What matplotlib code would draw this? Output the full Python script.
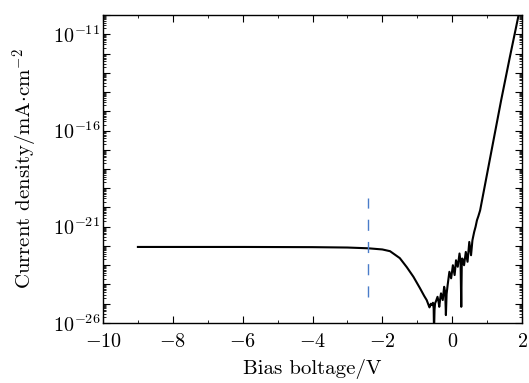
import numpy as np
import matplotlib
matplotlib.use("Agg")
import matplotlib.pyplot as plt
from matplotlib.ticker import FixedLocator, FuncFormatter, MultipleLocator

plt.rcParams['font.family'] = 'serif'
plt.rcParams['font.serif'] = ['cmr10', 'DejaVu Serif']
plt.rcParams['mathtext.fontset'] = 'cm'
plt.rcParams['axes.formatter.use_mathtext'] = True

# bias voltage (V) and log10 of current density
bias = [-9.0, -6.0, -4.0, -3.0, -2.4, -2.0, -1.78, -1.5, -1.3, -1.11, -0.92,
        -0.80, -0.73, -0.68, -0.65, -0.61, -0.58, -0.55, -0.53, -0.52, -0.505,
        -0.49, -0.46, -0.42, -0.39, -0.37, -0.34, -0.32, -0.27, -0.23, -0.20,
        -0.18, -0.16, -0.13, -0.08, -0.03, 0.02, 0.07, 0.11, 0.16, 0.21,
        0.24, 0.26, 0.275, 0.29, 0.34, 0.39, 0.44, 0.49, 0.54, 0.58,
        0.63, 0.67, 0.71, 0.75, 0.80, 1.10, 1.40, 1.65, 1.92]
log_j = [-22.05, -22.05, -22.06, -22.08, -22.12, -22.18, -22.27, -22.63, -23.10, -23.60, -24.20,
         -24.60, -24.81, -25.05, -25.19, -25.00, -25.07, -24.95, -25.24, -26.50, -25.30,
         -24.98, -24.85, -24.64, -24.90, -25.16, -24.70, -24.46, -24.81, -24.12, -24.40,
         -25.59, -24.50, -24.03, -23.34, -23.68, -23.00, -23.51, -22.74, -23.08, -22.39,
         -22.80, -25.16, -22.90, -22.65, -23.00, -22.31, -22.82, -21.79, -22.48, -21.70,
         -21.27, -21.00, -20.66, -20.45, -20.15, -17.30, -14.45, -12.20, -9.85]

marker_v = -2.4
marker_lo, marker_hi = 10**-24.65, 10**-19.5

fig = plt.figure(figsize=(5.29, 3.83), dpi=100)
ax = fig.add_axes([0.1947, 0.1567, 0.7921, 0.8041])

ax.semilogy(bias, 10.0**np.array(log_j), color='black', lw=1.5)
ax.plot([marker_v, marker_v], [marker_lo, marker_hi], color='#4a7cc9', lw=1.0,
        dashes=(8, 8))

ax.set_xlim(-10, 2)
ax.set_ylim(1e-26, 1e-10)

ax.xaxis.set_major_locator(MultipleLocator(2))
ax.xaxis.set_minor_locator(MultipleLocator(1))
ax.xaxis.set_major_formatter(FuncFormatter(lambda v, p: r'$%d$' % v if v >= 0 else r'$-%d$' % -v))

decades = np.arange(-26, -9)
ax.yaxis.set_major_locator(FixedLocator(10.0**decades))
minor = [s * 10.0**d for d in decades[:-1] for s in range(2, 10)]
ax.yaxis.set_minor_locator(FixedLocator(minor))
ax.yaxis.set_major_formatter(FuncFormatter(
    lambda v, p: r'$10^{%d}$' % round(np.log10(v)) if round(np.log10(v)) in (-26, -21, -16, -11) else ''))
ax.yaxis.set_minor_formatter(FuncFormatter(lambda v, p: ''))

ax.tick_params(which='both', direction='in', top=True, right=True, labelsize=14.5)
ax.tick_params(axis='x', which='major', pad=7)
ax.tick_params(axis='y', which='major', pad=2)
ax.tick_params(which='major', length=5, width=0.8)
ax.tick_params(which='minor', length=2.5, width=0.6)
for s in ax.spines.values():
    s.set_linewidth(1.0)

ax.set_xlabel('Bias boltage/V', fontsize=15, labelpad=6)
ax.set_ylabel(r'Current density/mA$\cdot$cm$^{-2}$', fontsize=15, labelpad=9)

fig.savefig('out.png', dpi=100)
